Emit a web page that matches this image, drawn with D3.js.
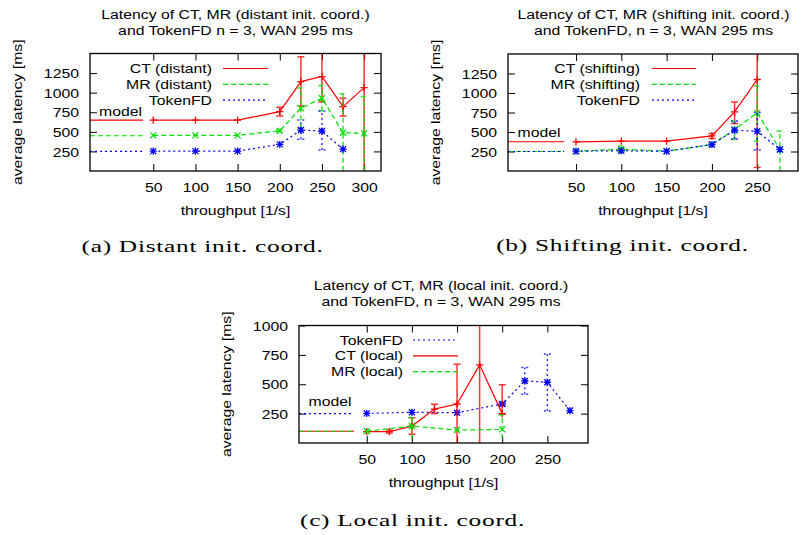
<!DOCTYPE html>
<html><head><meta charset="utf-8">
<script src="https://cdn.jsdelivr.net/npm/d3@7"></script>
<style>body{margin:0;background:#fff} svg{display:block}</style>
</head><body><svg id="c" width="799" height="535"></svg>
<script>
// ---------- data ----------
const yTicksAB = [250, 500, 750, 1000, 1250];
const yTicksC = [250, 500, 750, 1000];
const xTicksA = [50, 100, 150, 200, 250, 300];
const xTicksBC = [50, 100, 150, 200, 250];

// (a) distant
const aCTx = [50, 100, 150, 200, 225, 250, 275, 300];
const aCTy = [650, 650, 650, 758, 1142, 1206, 822, 1065];
const aCTlo = [null, null, null, 703, 830, 880, 703, -200];
const aCThi = [null, null, null, 814, 1460, 1540, 929, 2000];
const aMRx = [50, 100, 150, 200, 225, 250, 275, 300];
const aMRy = [455, 455, 455, 514, 801, 929, 489, 480];
const aMRlo = [null, null, null, 500, 545, 770, -100, -100];
const aMRhi = [null, null, null, 530, 1058, 1091, 985, 950];
const aTFx = [50, 100, 150, 200, 225, 250, 275];
const aTFy = [254, 254, 254, 340, 523, 510, 279];
const aTFlo = [null, null, null, null, 404, 267, null];
const aTFhi = [null, null, null, null, 651, 767, null];
const aModel = [650, 450, 250]; // CT, MR, TokenFD

// (b) shifting
const bCTx = [50, 100, 150, 200, 225, 250];
const bCTy = [373, 382, 382, 450, 758, 1173];
const bCTlo = [null, null, null, 417, 609, 45];
const bCThi = [null, null, null, 481, 886, 1800];
const bMRx = [50, 100, 150, 200, 225, 250, 275];
const bMRy = [254, 279, 254, 340, 532, 745, 276];
const bMRlo = [null, 230, null, 322, 408, 380, -100];
const bMRhi = [null, 320, null, 358, 638, 1090, 514];
const bTFx = [50, 100, 150, 200, 225, 250, 275];
const bTFy = [254, 260, 254, 340, 523, 510, 276];
const bTFlo = [null, null, null, null, 410, 270, null];
const bTFhi = [null, null, null, null, 640, 750, null];
const bModel = [375, 250, 250]; // CT, MR, TokenFD

// (c) local
const cTFx = [50, 100, 150, 200, 225, 250, 275];
const cTFy = [252, 261, 258, 332, 528, 517, 276];
const cTFlo = [null, null, null, 315, 415, 272, null];
const cTFhi = [null, null, null, 350, 642, 758, null];
const cCTx = [50, 75, 100, 125, 150, 175, 200];
const cCTy = [96, 96, 144, 289, 332, 665, 250];
const cCTlo = [null, 85, 75, 252, -100, -200, 245];
const cCThi = [null, 110, 215, 330, 670, 1200, 495];
const cMRx = [50, 100, 150, 200];
const cMRy = [100, 144, 110, 116];
const cMRlo = [null, -100, null, -100];
const cMRhi = [null, 216, null, 238];
const cModel = [250, 100, 100]; // TokenFD, CT, MR

// ---------- styles ----------
const SX = 1.17, FS = 13.5, SANS = '"Liberation Sans", Arial, sans-serif';
const SERIF = '"Liberation Serif", "DejaVu Serif", serif';
const ST = {
  CT: {color: '#ff0000', dash: null, marker: 'plus'},
  MR: {color: '#00dd00', dash: '5,3', marker: 'cross'},
  TF: {color: '#0000ff', dash: '2,3', marker: 'star'}
};

const svg = d3.select('#c');

function stext(g, x, y, str, anchor, size, family, sx, rot) {
  return g.append('text')
    .attr('transform', `translate(${x},${y})` + (rot ? ` rotate(${rot})` : '') + ` scale(${sx},1)`)
    .attr('text-anchor', anchor).attr('dominant-baseline', 'central')
    .style('font-family', family).style('font-size', size + 'px')
    .attr('fill', '#000').text(str);
}

function marker(g, type, cx, cy, color) {
  const s = 3.6, d = 3.0;
  const path = d3.path();
  if (type === 'plus' || type === 'star') {
    path.moveTo(cx - s, cy); path.lineTo(cx + s, cy);
    path.moveTo(cx, cy - s); path.lineTo(cx, cy + s);
  }
  if (type === 'cross' || type === 'star') {
    path.moveTo(cx - d, cy - d); path.lineTo(cx + d, cy + d);
    path.moveTo(cx - d, cy + d); path.lineTo(cx + d, cy - d);
  }
  g.append('path').attr('d', path.toString()).attr('stroke', color)
    .attr('stroke-width', 1.3).attr('fill', 'none');
}

function drawPanel(p) {
  const g = svg.append('g');
  const {l, r, t, b} = p.box;
  const x = d3.scaleLinear().domain(p.xDomain).range([l, r]);
  const y = d3.scaleLinear().domain(p.yDomain).range([b, t]);

  svg.append('clipPath').attr('id', 'clip' + p.id)
    .append('rect').attr('x', l).attr('y', t).attr('width', r - l).attr('height', b - t);

  const styleAxis = sel => {
    sel.select('.domain').remove();
    sel.selectAll('line').attr('stroke', '#000').attr('stroke-width', 1);
  };
  const fmt = d3.format('d');
  const bx = g.append('g').attr('transform', `translate(0,${b})`)
    .call(d3.axisBottom(x).tickValues(p.xTicks).tickFormat(fmt).tickSizeInner(-7).tickSizeOuter(0));
  styleAxis(bx);
  bx.selectAll('text').attr('y', 16).attr('dy', null).attr('dominant-baseline', 'central')
    .attr('transform', `scale(${SX},1)`).style('font-family', SANS).style('font-size', FS + 'px').attr('fill', '#000');
  const tx = g.append('g').attr('transform', `translate(0,${t})`)
    .call(d3.axisTop(x).tickValues(p.xTicks).tickSizeInner(-7).tickSizeOuter(0).tickFormat(''));
  styleAxis(tx);
  const ly = g.append('g').attr('transform', `translate(${l},0)`)
    .call(d3.axisLeft(y).tickValues(p.yTicks).tickFormat(fmt).tickSizeInner(-7).tickSizeOuter(0));
  styleAxis(ly);
  ly.selectAll('text').attr('x', -11 / SX).attr('dy', null).attr('dominant-baseline', 'central')
    .attr('transform', `scale(${SX},1)`).style('font-family', SANS).style('font-size', FS + 'px').attr('fill', '#000');
  const ry = g.append('g').attr('transform', `translate(${r},0)`)
    .call(d3.axisRight(y).tickValues(p.yTicks).tickSizeInner(-7).tickSizeOuter(0).tickFormat(''));
  styleAxis(ry);

  const dg = g.append('g').attr('clip-path', `url(#clip${p.id})`);
  p.series.forEach(s => {
    const st = ST[s.key];
    dg.append('path')
      .attr('d', d3.line().x(d => x(d[0])).y(d => y(d[1]))([[p.xDomain[0], s.model], [p.modelEnd, s.model]]))
      .attr('stroke', st.color).attr('stroke-width', 1.2).attr('fill', 'none')
      .attr('stroke-dasharray', st.dash);
    const pts = s.x.map((v, i) => [v, s.y[i]]);
    dg.append('path').attr('d', d3.line().x(d => x(d[0])).y(d => y(d[1]))(pts))
      .attr('stroke', st.color).attr('stroke-width', 1.2).attr('fill', 'none')
      .attr('stroke-dasharray', st.dash);
    s.x.forEach((v, i) => {
      if (s.lo[i] == null) return;
      const cx = x(v), y0 = y(s.lo[i]), y1 = y(s.hi[i]);
      const pth = d3.path();
      pth.moveTo(cx, y0); pth.lineTo(cx, y1);
      pth.moveTo(cx - 3.5, y0); pth.lineTo(cx + 3.5, y0);
      pth.moveTo(cx - 3.5, y1); pth.lineTo(cx + 3.5, y1);
      dg.append('path').attr('d', pth.toString()).attr('stroke', st.color)
        .attr('stroke-width', 1.5).attr('stroke-opacity', 0.8).attr('fill', 'none')
        .attr('stroke-dasharray', st.dash);
    });
    pts.forEach(d => marker(dg, st.marker, x(d[0]), y(d[1]), st.color));
  });

  g.append('rect').attr('x', l).attr('y', t).attr('width', r - l).attr('height', b - t)
    .attr('fill', 'none').attr('stroke', '#000').attr('stroke-width', 1.3);

  p.legend.forEach((e, i) => {
    const ly0 = p.legendPos.y + i * 15.8;
    stext(g, p.legendPos.xText, ly0, e.label, 'end', FS, SANS, SX);
    g.append('line').attr('x1', p.legendPos.x1).attr('x2', p.legendPos.x2)
      .attr('y1', ly0).attr('y2', ly0).attr('stroke', ST[e.key].color).attr('stroke-width', 1.2)
      .attr('stroke-dasharray', ST[e.key].dash);
  });
  stext(g, p.modelLabel.x, p.modelLabel.y, 'model', 'start', FS, SANS, SX);

  stext(g, p.titleX, p.titleY, p.title[0], 'middle', FS, SANS, SX);
  stext(g, p.titleX, p.titleY + 16, p.title[1], 'middle', FS, SANS, SX);
  stext(g, (l + r) / 2, b + 39, 'throughput [1/s]', 'middle', FS, SANS, SX);
  stext(g, l - 73, (t + b) / 2, 'average latency [ms]', 'middle', FS, SANS, SX, -90);
  stext(g, p.captionX, p.captionY, p.caption, 'middle', 17.5, SERIF, 1.45)
    .style('letter-spacing', '0.5px');
}

drawPanel({
  id: 'a', box: {l: 90, r: 381, t: 53.5, b: 171},
  xDomain: [-25, 320], yDomain: [0, 1500], xTicks: xTicksA, yTicks: yTicksAB, modelEnd: 38,
  series: [
    {key: 'CT', x: aCTx, y: aCTy, lo: aCTlo, hi: aCThi, model: aModel[0]},
    {key: 'MR', x: aMRx, y: aMRy, lo: aMRlo, hi: aMRhi, model: aModel[1]},
    {key: 'TF', x: aTFx, y: aTFy, lo: aTFlo, hi: aTFhi, model: aModel[2]}
  ],
  legend: [{key: 'CT', label: 'CT (distant)'}, {key: 'MR', label: 'MR (distant)'}, {key: 'TF', label: 'TokenFD'}],
  legendPos: {xText: 212, x1: 223, x2: 268, y: 68.5},
  modelLabel: {x: 99, y: 111},
  title: ['Latency of CT, MR (distant init. coord.)', 'and TokenFD n = 3, WAN 295 ms'],
  titleX: 235.5, titleY: 14,
  caption: '(a) Distant init. coord.', captionX: 202.5, captionY: 246
});

drawPanel({
  id: 'b', box: {l: 508, r: 798, t: 54, b: 171},
  xDomain: [-25, 295], yDomain: [0, 1500], xTicks: xTicksBC, yTicks: yTicksAB, modelEnd: 37,
  series: [
    {key: 'CT', x: bCTx, y: bCTy, lo: bCTlo, hi: bCThi, model: bModel[0]},
    {key: 'MR', x: bMRx, y: bMRy, lo: bMRlo, hi: bMRhi, model: bModel[1]},
    {key: 'TF', x: bTFx, y: bTFy, lo: bTFlo, hi: bTFhi, model: bModel[2]}
  ],
  legend: [{key: 'CT', label: 'CT (shifting)'}, {key: 'MR', label: 'MR (shifting)'}, {key: 'TF', label: 'TokenFD'}],
  legendPos: {xText: 640, x1: 652, x2: 696, y: 68.5},
  modelLabel: {x: 517.5, y: 132},
  title: ['Latency of CT, MR (shifting init. coord.)', 'and TokenFD, n = 3, WAN 295 ms'],
  titleX: 653.5, titleY: 14,
  caption: '(b) Shifting init. coord.', captionX: 622.5, captionY: 245
});

drawPanel({
  id: 'c', box: {l: 299, r: 588, t: 325.5, b: 443},
  xDomain: [-25, 295], yDomain: [0, 1000], xTicks: xTicksBC, yTicks: yTicksC, modelEnd: 36,
  series: [
    {key: 'TF', x: cTFx, y: cTFy, lo: cTFlo, hi: cTFhi, model: cModel[0]},
    {key: 'CT', x: cCTx, y: cCTy, lo: cCTlo, hi: cCThi, model: cModel[1]},
    {key: 'MR', x: cMRx, y: cMRy, lo: cMRlo, hi: cMRhi, model: cModel[2]}
  ],
  legend: [{key: 'TF', label: 'TokenFD'}, {key: 'CT', label: 'CT (local)'}, {key: 'MR', label: 'MR (local)'}],
  legendPos: {xText: 403, x1: 413, x2: 458, y: 340},
  modelLabel: {x: 308.5, y: 401.5},
  title: ['Latency of CT, MR (local init. coord.)', 'and TokenFD, n = 3, WAN 295 ms'],
  titleX: 441, titleY: 285,
  caption: '(c) Local init. coord.', captionX: 412.5, captionY: 520
});
</script>
</body></html>
